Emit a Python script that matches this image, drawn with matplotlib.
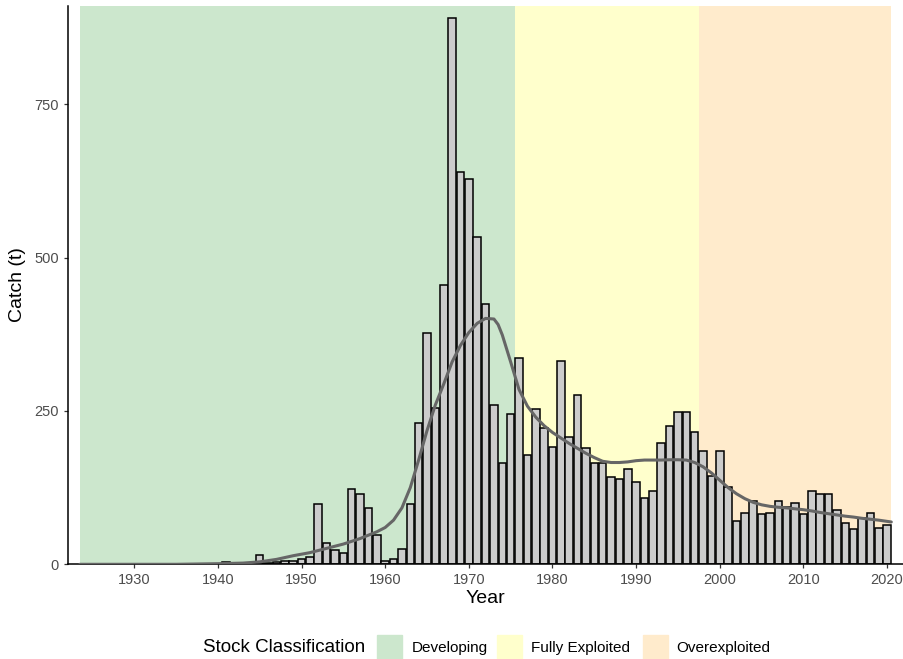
import matplotlib
matplotlib.use("Agg")
import matplotlib.pyplot as plt
from matplotlib.patches import Rectangle
import numpy as np

plt.rcParams['font.family'] = ['Liberation Sans', 'DejaVu Sans']

# catch per year (t)
years = list(range(1924, 2021))
catch = [0] * 17 + [
    4, 0, 0, 0, 15, 2, 4, 6, 5, 9,                    # 1941-1950
    12, 99, 35, 24, 18, 122, 115, 92, 47, 5,          # 1951-1960
    8, 25, 98, 230, 378, 255, 455, 891, 640, 628,     # 1961-1970
    534, 424, 260, 165, 245, 337, 178, 253, 223, 191,  # 1971-1980
    331, 207, 276, 189, 166, 166, 142, 139, 156, 135,  # 1981-1990
    108, 120, 197, 226, 249, 249, 216, 185, 144, 184,  # 1991-2000
    126, 71, 83, 103, 82, 83, 103, 94, 100, 82,        # 2001-2010
    119, 115, 115, 88, 67, 58, 75, 83, 60, 64,         # 2011-2020
]

# smoothed trend line
trend_years = [1923.5, 1930, 1935, 1940, 1943, 1945, 1947, 1949, 1951, 1953,
               1955, 1957, 1959, 1960, 1961, 1962, 1963, 1964, 1965, 1966,
               1967, 1968, 1969, 1970, 1971, 1972, 1973, 1973.5, 1974, 1975,
               1976, 1977, 1978, 1979, 1980, 1981, 1982, 1983, 1984, 1985,
               1986, 1987, 1988, 1989, 1990, 1991, 1992, 1993, 1994, 1995,
               1996, 1997, 1998, 1999, 2000, 2001, 2002, 2003, 2004, 2005,
               2006, 2007, 2008, 2009, 2010, 2011, 2012, 2013, 2014, 2015,
               2016, 2017, 2018, 2019, 2020, 2020.5]
trend = [0, 0, 0, 1, 2, 4, 8, 14, 19, 26,
         33, 42, 53, 60, 72, 92, 125, 170, 218, 260,
         294, 330, 357, 378, 393, 401, 400, 391, 374, 330,
         285, 258, 240, 226, 215, 206, 197, 189, 181, 174,
         168, 166, 166, 167, 169, 170, 170, 170, 170.5, 170.5,
         170, 166, 159, 149, 137, 125, 115, 107, 101, 97,
         94.5, 93, 92, 90.5, 89, 87, 84.5, 82.5, 80.5, 78.5,
         77, 75, 73.5, 72, 70, 69]

# stock classification periods
stock_class = ['Developing', 'Fully Exploited', 'Overexploited']
class_start = [1923.5, 1975.5, 1997.5]
class_end = [1975.5, 1997.5, 2020.5]
class_colors = ['#CCE7CD', '#FFFFCC', '#FFEBCC']

fig = plt.figure(figsize=(9.04, 6.59), dpi=100)
ax = fig.add_axes([0.0749, 0.1437, 0.924, 0.8477])

for s, e, c in zip(class_start, class_end, class_colors):
    ax.axvspan(s, e, color=c, lw=0, zorder=0)

ax.bar(years, catch, width=0.9, color='#CCCCCC', edgecolor='black',
       linewidth=1.1, zorder=2)
ax.plot(trend_years, trend, color='#666666', lw=2.2, zorder=3,
        solid_capstyle='round', solid_joinstyle='round')

ax.set_xlim(1922.05, 2021.9)
ax.set_ylim(0, 911)
ax.set_xticks(range(1930, 2021, 10))
ax.set_yticks([0, 250, 500, 750])

for side in ['top', 'right']:
    ax.spines[side].set_visible(False)
for side in ['left', 'bottom']:
    ax.spines[side].set_linewidth(1.1)
ax.tick_params(axis='both', length=3.2, width=0.9, color='#333333',
               labelsize=10.5, labelcolor='#4D4D4D', pad=3.2)

ax.set_xlabel('Year', fontsize=14, labelpad=2)
ax.set_ylabel('Catch (t)', fontsize=14, labelpad=6)

# legend along the bottom
W, H = 904, 659
fig.text(203 / W, 1 - 648 / H, 'Stock Classification', fontsize=13.5,
         ha='left', va='center')
key_x = [377, 497, 643]
label_x = [412, 531, 676]
for kx, lx, name, c in zip(key_x, label_x, stock_class, class_colors):
    fig.patches.append(Rectangle((kx / W, 0), 25 / W, 24 / H, color=c,
                                 transform=fig.transFigure, figure=fig))
    fig.text(lx / W, 1 - 648 / H, name, fontsize=11, ha='left', va='center')

fig.savefig('out.png', dpi=100)
